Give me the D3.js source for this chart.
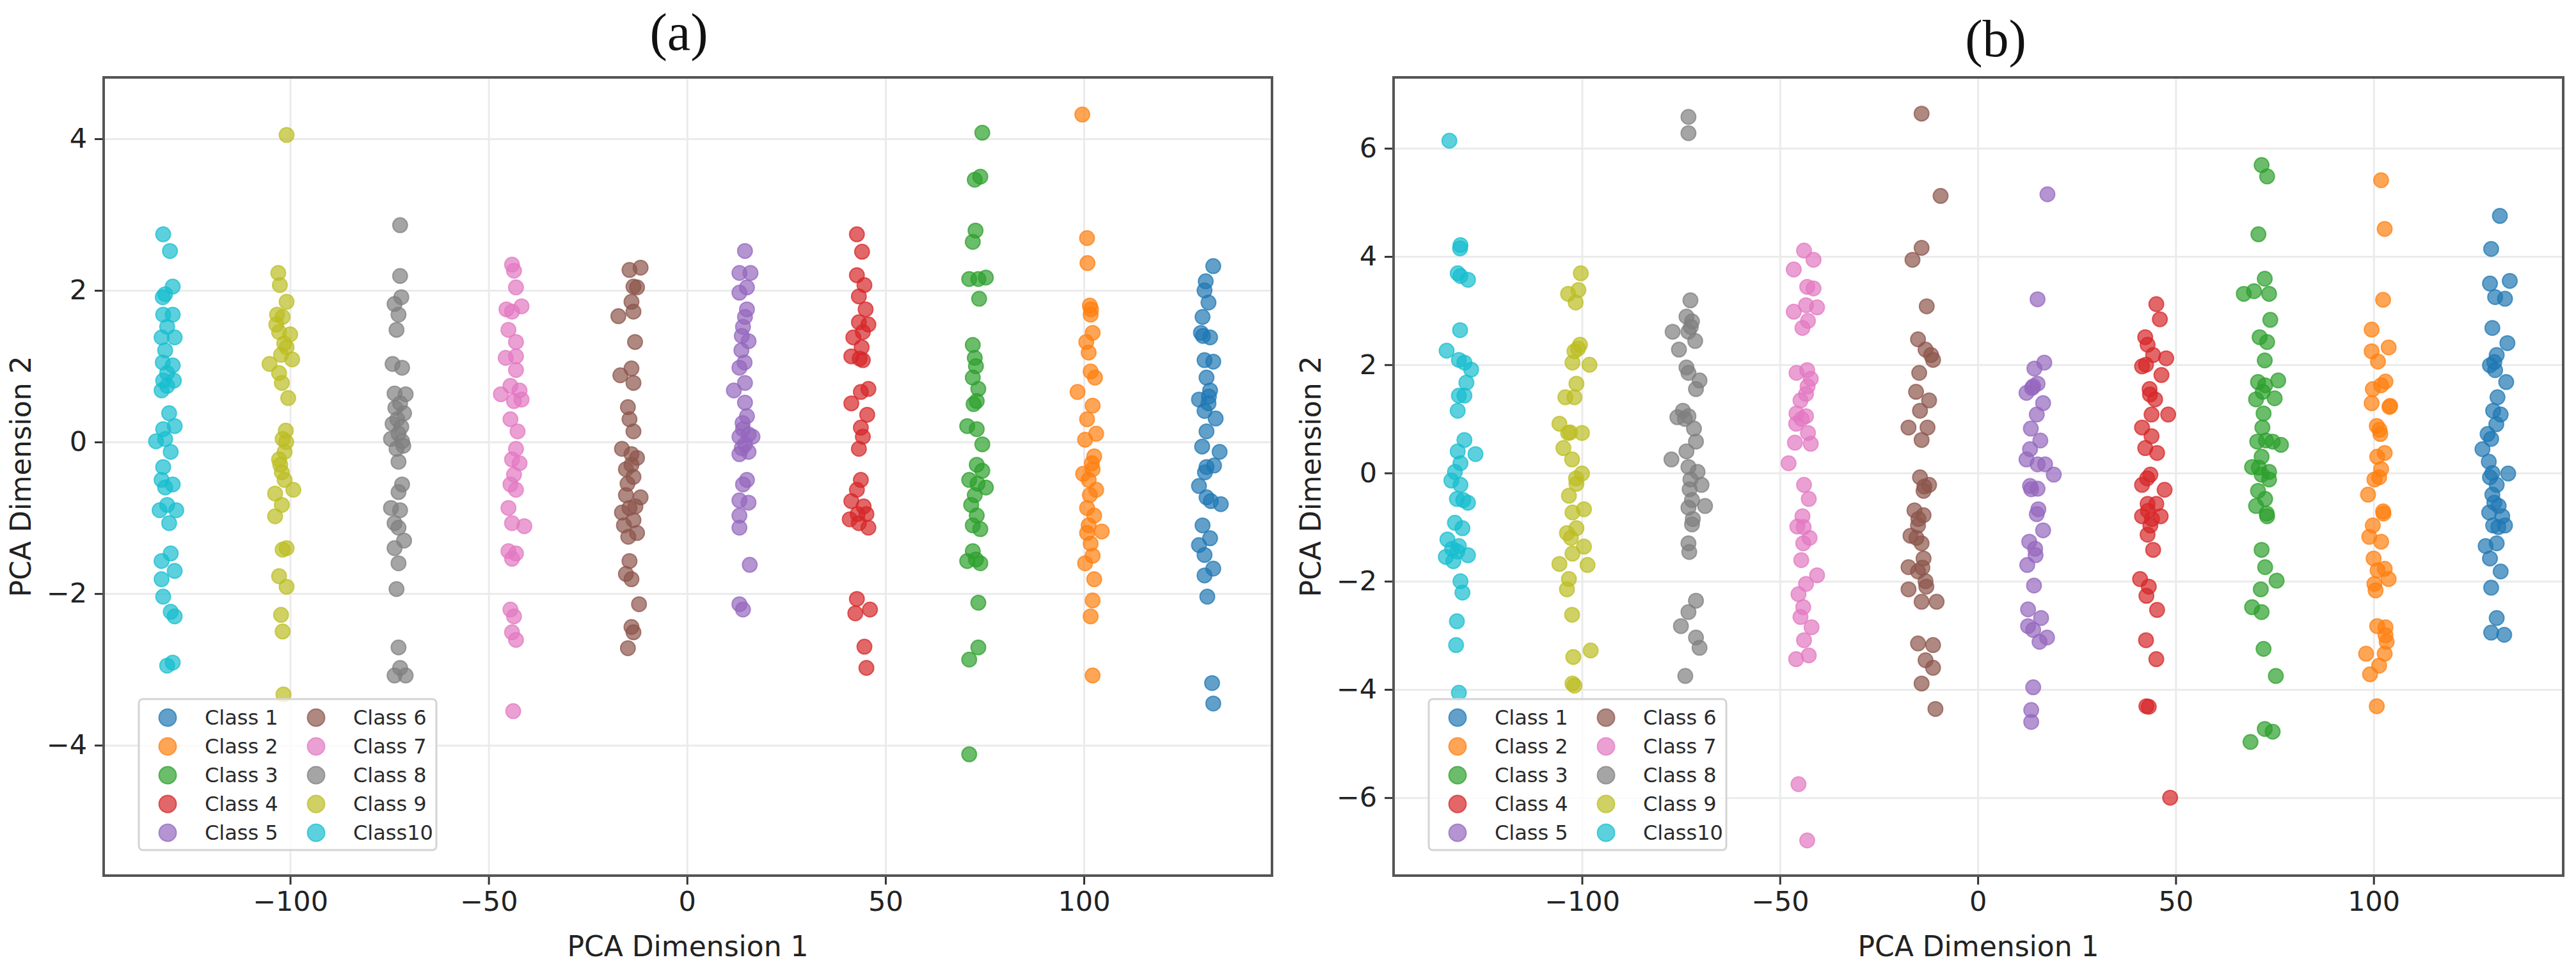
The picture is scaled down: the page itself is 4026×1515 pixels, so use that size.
<!DOCTYPE html>
<html>
<head>
<meta charset="utf-8">
<script src="https://cdn.jsdelivr.net/npm/d3@7"></script>
<style>
  body { margin: 0; background: #fff; }
  svg { display: block; }
  .tick text { font-family: "DejaVu Sans", sans-serif; fill: #222; }
  .axis-label { font-family: "DejaVu Sans", sans-serif; fill: #222; }
  .panel-title { font-family: "Liberation Serif", "Times New Roman", serif; fill: #111; }
  .legend-text { font-family: "DejaVu Sans", sans-serif; fill: #2a2a2a; }
</style>
</head>
<body>
<div id="wrapper"></div>
<script>

// 1. Data

const classLabels = ["Class 1", "Class 2", "Class 3", "Class 4", "Class 5",
  "Class 6", "Class 7", "Class 8", "Class 9", "Class10"]
const palette = ["#1f77b4", "#ff7f0e", "#2ca02c", "#d62728", "#9467bd",
  "#8c564b", "#e377c2", "#7f7f7f", "#bcbd22", "#17becf"]

const xTicks = [-100, -50, 0, 50, 100]
const yTicksA = [-4, -2, 0, 2, 4]
const yTicksB = [-6, -4, -2, 0, 2, 4, 6]

// panel (a)
const a1 = [[132.6,2.32],[130.7,2.12],[130.4,2.00],[131.4,1.84],[129.9,1.65],[129.5,1.44],[131.8,1.38],[130.4,1.08],[132.6,1.06],[130.9,0.85],[131.8,0.68],[129.0,0.56],[131.4,0.51],[130.4,0.41],[133.2,0.31],[130.9,0.14],[129.8,-0.06],[134.2,-0.13],[130.9,-0.33],[132.8,-0.31],[129.0,-0.58],[130.9,-0.73],[134.5,-0.82],[129.9,-1.10],[131.8,-1.27],[129.0,-1.36],[130.4,-1.49],[132.6,-1.67],[130.4,-1.76],[131.1,-2.04],[132.3,-3.18],[132.6,-3.45],[131.5,0.60],[130.5,-0.40],[132.0,-0.78],[130.0,1.40]]
const a2 = [[99.6,4.32],[100.8,2.69],[100.9,2.36],[101.5,1.80],[101.7,1.68],[102.2,1.44],[100.6,1.32],[101.2,1.18],[101.7,0.93],[102.8,0.85],[98.4,0.66],[102.2,0.48],[100.8,0.30],[103.1,0.11],[100.3,0.03],[102.6,-0.19],[102.2,-0.36],[99.8,-0.42],[101.2,-0.50],[103.1,-0.63],[100.8,-0.87],[102.6,-0.97],[101.2,-1.10],[104.5,-1.18],[101.7,-1.34],[102.2,-1.50],[100.3,-1.60],[102.6,-1.81],[102.2,-2.09],[101.7,-2.30],[102.2,-3.08],[101.8,1.75],[102.0,-0.28],[101.5,-0.70],[100.8,-1.20]]
const a3 = [[74.4,4.08],[72.5,3.46],[73.9,3.50],[72.7,2.79],[72.0,2.64],[71.1,2.15],[73.4,2.15],[75.3,2.17],[73.6,1.89],[72.0,1.28],[72.5,1.11],[72.0,0.85],[73.4,0.70],[73.0,0.54],[70.6,0.21],[73.0,0.17],[74.4,-0.03],[73.0,-0.30],[74.4,-0.38],[71.1,-0.50],[75.3,-0.60],[72.5,-0.70],[71.6,-0.83],[73.0,-0.97],[72.0,-1.10],[73.9,-1.15],[72.0,-1.44],[70.6,-1.57],[73.9,-1.60],[73.4,-2.12],[73.4,-2.71],[71.1,-2.87],[71.1,-4.12],[72.8,1.00],[73.2,-0.55],[72.2,0.50],[72.8,-1.55]]
const a4 = [[42.8,2.74],[44.1,2.51],[42.8,2.20],[44.7,2.07],[43.3,1.92],[45.0,1.75],[43.3,1.58],[45.7,1.55],[41.9,1.38],[44.3,1.45],[41.4,1.13],[44.3,1.08],[45.7,0.70],[43.8,0.66],[41.4,0.51],[45.4,0.36],[43.8,0.19],[44.3,0.07],[43.3,-0.09],[43.8,-0.50],[42.8,-0.63],[41.4,-0.78],[45.2,-0.95],[41.0,-1.02],[43.3,-1.07],[45.7,-1.13],[42.8,-2.07],[42.4,-2.26],[46.1,-2.21],[44.7,-2.70],[45.2,-2.98],[43.5,1.10],[44.5,-0.85],[43.0,-0.95],[44.0,1.25]]
const a5 = [[14.6,2.52],[13.2,2.23],[16.0,2.23],[13.2,1.97],[15.1,2.04],[15.1,1.75],[14.6,1.65],[14.1,1.52],[15.5,1.33],[13.7,1.21],[13.2,0.98],[14.6,0.78],[11.8,0.68],[14.6,0.52],[15.1,0.34],[14.1,0.17],[13.2,0.07],[16.5,0.07],[14.6,-0.03],[13.2,-0.16],[15.5,-0.13],[15.1,-0.50],[14.1,-0.56],[13.2,-0.77],[15.5,-0.80],[13.2,-0.97],[13.2,-1.13],[15.8,-1.62],[13.2,-2.14],[14.1,-2.21],[14.0,0.25],[15.5,0.10],[13.8,-0.08],[14.5,1.05],[13.8,1.40]]
const a6 = [[-14.5,2.27],[-11.7,2.30],[-13.5,2.05],[-12.6,2.04],[-14.0,1.85],[-13.5,1.72],[-17.3,1.66],[-13.1,1.32],[-16.8,0.88],[-14.0,0.97],[-13.5,0.78],[-14.9,0.46],[-14.5,0.30],[-13.5,0.14],[-16.4,-0.09],[-14.0,-0.16],[-12.6,-0.21],[-15.4,-0.36],[-13.5,-0.46],[-11.7,-0.73],[-15.4,-0.70],[-14.5,-0.87],[-16.4,-0.93],[-13.5,-1.03],[-15.9,-1.10],[-12.6,-1.20],[-14.5,-1.57],[-15.4,-1.74],[-14.0,-1.81],[-12.1,-2.14],[-14.0,-2.44],[-13.5,-2.51],[-14.9,-2.72],[-14.0,-0.30],[-15.0,-0.55],[-13.0,-0.85],[-14.8,-1.25]]
const a7 = [[-44.1,2.34],[-43.6,2.26],[-43.1,2.04],[-45.5,1.75],[-41.7,1.79],[-44.1,1.72],[-45.0,1.48],[-43.1,1.32],[-45.7,1.11],[-43.1,1.13],[-43.1,0.95],[-44.5,0.74],[-46.9,0.63],[-42.2,0.68],[-43.6,0.54],[-41.7,0.56],[-44.5,0.30],[-42.7,0.14],[-43.1,-0.09],[-44.1,-0.23],[-42.2,-0.28],[-43.6,-0.43],[-44.5,-0.56],[-43.1,-0.63],[-45.0,-0.87],[-44.1,-1.07],[-41.0,-1.11],[-45.0,-1.44],[-43.1,-1.47],[-44.1,-1.54],[-44.5,-2.21],[-43.6,-2.30],[-44.1,-2.51],[-43.1,-2.61],[-43.8,-3.55]]
const a8 = [[-72.3,2.86],[-72.3,2.19],[-72.0,1.91],[-73.7,1.82],[-72.7,1.68],[-73.2,1.48],[-74.2,1.03],[-71.8,0.98],[-73.7,0.64],[-70.9,0.63],[-72.3,0.51],[-71.3,0.38],[-74.2,0.24],[-72.7,0.11],[-74.6,0.04],[-71.8,0.01],[-73.2,-0.09],[-72.7,-0.26],[-71.8,-0.56],[-72.7,-0.66],[-74.6,-0.87],[-72.3,-0.90],[-73.7,-1.07],[-72.7,-1.13],[-71.3,-1.30],[-73.7,-1.40],[-72.7,-1.60],[-73.2,-1.94],[-72.7,-2.71],[-72.3,-2.98],[-73.7,-3.08],[-70.9,-3.08],[-73.0,0.30],[-72.0,0.20],[-73.5,0.45],[-71.5,-0.05]]
const a9 = [[-100.9,4.05],[-103.0,2.23],[-102.6,2.07],[-100.9,1.85],[-103.3,1.68],[-101.9,1.65],[-100.0,1.42],[-102.8,1.45],[-100.9,1.25],[-102.3,1.15],[-105.2,1.03],[-99.5,1.09],[-102.8,0.91],[-102.1,0.78],[-100.5,0.58],[-101.1,0.15],[-101.9,0.04],[-101.4,-0.13],[-102.8,-0.23],[-102.1,-0.40],[-101.4,-0.50],[-103.8,-0.68],[-99.2,-0.63],[-102.1,-0.83],[-103.8,-0.98],[-101.9,-1.42],[-100.9,-1.40],[-102.8,-1.77],[-100.9,-1.91],[-102.3,-2.28],[-101.9,-2.50],[-101.7,-3.33],[-101.5,1.30],[-103.5,1.55],[-101.0,0.00],[-102.5,-0.30]]
const a10 = [[-132.0,2.74],[-130.3,2.52],[-129.6,2.05],[-131.5,1.95],[-132.1,1.91],[-132.0,1.68],[-129.6,1.68],[-131.0,1.52],[-132.4,1.38],[-129.1,1.38],[-131.5,1.21],[-132.1,1.05],[-129.6,1.01],[-131.0,0.91],[-132.0,0.81],[-129.3,0.81],[-131.0,0.74],[-132.4,0.68],[-130.5,0.38],[-132.0,0.17],[-129.1,0.21],[-133.8,0.01],[-131.5,0.04],[-130.1,-0.13],[-132.0,-0.33],[-132.4,-0.50],[-129.6,-0.56],[-131.5,-0.60],[-132.9,-0.90],[-131.0,-0.83],[-128.7,-0.90],[-130.5,-1.07],[-132.4,-1.57],[-130.1,-1.47],[-129.1,-1.70],[-132.4,-1.81],[-132.0,-2.04],[-130.1,-2.24],[-129.1,-2.30],[-131.0,-2.95],[-129.6,-2.91]]

// panel (b)
const b1 = [[131.9,4.75],[129.7,4.14],[129.4,3.50],[134.4,3.55],[130.7,3.25],[133.2,3.22],[130.0,2.68],[133.8,2.40],[131.1,2.18],[129.4,1.99],[130.7,1.90],[133.5,1.68],[131.3,1.40],[130.2,1.15],[132.1,1.08],[128.8,0.72],[129.7,0.63],[127.5,0.44],[129.1,0.21],[134.0,-0.01],[129.4,-0.08],[131.1,-0.22],[130.0,-0.40],[131.6,-0.61],[129.2,-0.73],[132.5,-0.80],[130.2,-0.97],[133.2,-0.97],[128.3,-1.35],[131.1,-1.30],[129.4,-1.58],[132.1,-1.82],[129.7,-2.12],[131.1,-2.68],[129.7,-2.95],[133.0,-2.99],[130.5,2.05],[131.0,0.90],[130.0,0.00],[131.5,-1.00],[130.5,-0.55]]
const b2 = [[101.9,5.41],[102.8,4.51],[102.4,3.20],[99.5,2.65],[103.8,2.32],[99.5,2.25],[101.1,2.06],[103.0,1.69],[101.9,1.62],[99.8,1.55],[99.5,1.29],[104.2,1.24],[100.8,0.87],[101.7,0.72],[102.8,0.37],[100.9,0.30],[101.9,0.07],[101.4,-0.08],[100.2,-0.12],[98.6,-0.40],[102.4,-0.71],[99.8,-0.97],[98.9,-1.18],[101.9,-1.27],[100.0,-1.58],[102.8,-1.77],[103.8,-1.96],[100.2,-2.05],[100.5,-2.17],[100.9,-2.83],[103.0,-2.85],[103.3,-3.12],[98.1,-3.34],[102.8,-3.34],[101.4,-3.56],[99.1,-3.72],[100.8,-4.31],[104.0,1.22],[101.5,0.80],[102.5,-0.75],[101.0,-1.80],[103.0,-3.00]]
const b3 = [[71.7,5.69],[73.1,5.48],[70.9,4.41],[72.5,3.59],[67.2,3.31],[69.8,3.36],[73.6,3.31],[73.9,2.83],[71.2,2.51],[73.1,2.42],[72.5,2.08],[70.8,1.68],[75.9,1.71],[72.6,1.62],[70.3,1.36],[75.0,1.38],[72.2,1.10],[71.9,0.84],[70.6,0.58],[74.5,0.58],[76.6,0.52],[71.7,0.30],[69.3,0.11],[73.6,0.02],[71.7,-0.03],[73.6,-0.12],[70.8,-0.33],[72.6,-0.48],[70.3,-0.61],[73.1,-0.80],[71.7,-1.42],[72.6,-1.74],[75.5,-1.99],[71.5,-2.15],[69.3,-2.48],[71.7,-2.57],[72.2,-3.25],[75.3,-3.75],[72.5,-4.73],[74.5,-4.78],[68.9,-4.97],[72.0,1.50],[72.8,0.60],[71.0,0.10],[73.0,-0.75]]
const b4 = [[45.1,3.12],[46.0,2.84],[42.3,2.51],[42.9,2.37],[44.3,2.18],[47.6,2.12],[41.5,1.97],[46.4,1.81],[43.4,1.55],[44.8,1.36],[43.9,1.08],[48.1,1.08],[41.5,0.84],[43.9,0.68],[42.3,0.46],[45.3,0.37],[43.6,-0.03],[41.5,-0.22],[47.2,-0.31],[42.9,-0.57],[45.1,-0.57],[41.5,-0.80],[46.2,-0.80],[43.6,-0.97],[42.9,-1.14],[44.3,-1.42],[41.0,-1.96],[43.2,-2.10],[42.6,-2.27],[45.3,-2.53],[42.5,-3.09],[45.1,-3.44],[42.6,-4.31],[43.2,-4.32],[48.6,-6.00],[42.5,2.00],[43.5,1.45],[42.8,-0.10],[44.0,-0.85],[43.0,-0.70]]
const b5 = [[17.6,5.15],[15.1,3.21],[16.8,2.04],[14.3,1.93],[15.1,1.65],[12.3,1.48],[13.7,1.57],[16.5,1.29],[14.9,1.08],[13.4,0.82],[15.8,0.60],[13.2,0.44],[12.3,0.25],[15.1,0.16],[17.0,0.16],[19.2,-0.03],[13.2,-0.24],[15.1,-0.29],[15.3,-0.67],[14.9,-0.76],[16.5,-1.06],[13.0,-1.27],[14.6,-1.52],[12.5,-1.70],[14.2,-2.08],[12.7,-2.52],[16.0,-2.68],[12.7,-2.83],[15.6,-3.12],[17.5,-3.04],[14.0,-3.96],[13.5,-4.38],[13.5,-4.60],[14.0,1.60],[13.5,-0.30],[14.5,-1.40],[14.0,-2.90]]
const b6 = [[-14.2,6.64],[-9.4,5.12],[-14.2,4.16],[-16.5,3.94],[-12.9,3.08],[-15.1,2.47],[-13.2,2.28],[-11.3,2.09],[-11.8,2.18],[-14.8,1.85],[-15.6,1.50],[-12.3,1.34],[-14.6,1.15],[-17.5,0.84],[-12.7,0.84],[-14.2,0.61],[-14.6,-0.08],[-12.3,-0.22],[-13.7,-0.33],[-16.0,-0.69],[-13.7,-0.78],[-15.1,-0.97],[-17.0,-1.16],[-14.2,-1.30],[-13.7,-1.58],[-17.5,-1.74],[-15.1,-1.82],[-13.2,-2.00],[-17.5,-2.15],[-14.2,-2.38],[-10.4,-2.38],[-15.1,-3.15],[-11.3,-3.18],[-13.2,-3.46],[-11.3,-3.60],[-14.2,-3.89],[-10.7,-4.36],[-13.5,-0.25],[-15.0,-0.85],[-14.0,-1.75],[-13.0,-2.10],[-15.5,-1.20]]
const b7 = [[-43.9,4.11],[-41.5,3.94],[-46.5,3.76],[-43.1,3.44],[-41.5,3.41],[-43.4,3.10],[-40.6,3.06],[-46.5,2.98],[-42.9,2.81],[-44.3,2.68],[-45.8,1.85],[-43.1,1.90],[-42.2,1.74],[-43.4,1.46],[-44.8,1.34],[-45.8,1.10],[-43.4,1.05],[-45.9,0.91],[-42.9,0.74],[-46.2,0.56],[-42.2,0.54],[-47.8,0.18],[-43.9,-0.22],[-42.7,-0.48],[-44.3,-0.80],[-45.6,-0.99],[-42.5,-1.20],[-44.1,-1.30],[-44.6,-1.61],[-40.6,-1.89],[-43.4,-2.05],[-45.3,-2.24],[-44.1,-2.48],[-44.8,-2.66],[-42.0,-2.85],[-43.9,-3.09],[-45.9,-3.44],[-42.7,-3.37],[-45.3,-5.75],[-43.1,-6.79],[-44.5,1.00],[-43.0,1.60],[-44.0,-1.00]]
const b8 = [[-73.1,6.58],[-73.1,6.28],[-72.6,3.19],[-73.6,2.89],[-72.2,2.80],[-77.1,2.61],[-73.1,2.61],[-71.4,2.44],[-75.5,2.28],[-73.6,1.95],[-73.1,1.85],[-70.3,1.71],[-71.2,1.55],[-74.5,1.15],[-75.9,1.03],[-73.1,1.05],[-71.7,0.82],[-71.2,0.58],[-73.6,0.40],[-77.4,0.25],[-73.1,0.11],[-70.8,0.02],[-72.6,-0.12],[-69.8,-0.22],[-72.2,-0.50],[-68.9,-0.61],[-73.1,-0.64],[-72.2,-0.95],[-73.1,-1.30],[-72.9,-1.46],[-71.2,-2.36],[-73.1,-2.57],[-75.0,-2.83],[-71.2,-3.04],[-70.3,-3.23],[-73.9,-3.75],[-72.5,2.70],[-74.0,1.00],[-72.8,-0.30],[-72.0,-0.85]]
const b9 = [[-100.3,3.69],[-103.5,3.31],[-100.9,3.38],[-101.6,3.15],[-100.5,2.37],[-101.9,2.25],[-98.1,2.00],[-102.4,2.04],[-101.4,1.65],[-104.2,1.40],[-101.9,1.40],[-105.7,0.91],[-103.5,0.74],[-100.0,0.74],[-104.7,0.46],[-102.5,0.25],[-100.0,-0.01],[-101.4,-0.20],[-103.3,-0.42],[-99.5,-0.67],[-102.4,-0.73],[-103.8,-1.11],[-101.4,-1.02],[-99.5,-1.36],[-102.4,-1.49],[-105.7,-1.68],[-98.6,-1.70],[-103.3,-1.96],[-103.8,-2.15],[-102.5,-2.62],[-102.2,-3.40],[-97.8,-3.28],[-102.4,-3.89],[-101.9,-3.93],[-101.0,2.30],[-102.8,-1.20],[-101.5,-0.10],[-103.0,0.75]]
const b10 = [[-133.5,6.14],[-130.7,4.21],[-130.8,4.15],[-131.4,3.69],[-130.7,3.64],[-128.8,3.57],[-130.8,2.64],[-134.2,2.26],[-131.1,2.09],[-129.7,2.04],[-128.0,1.91],[-129.2,1.67],[-131.1,1.43],[-129.7,1.43],[-131.4,1.15],[-129.7,0.61],[-131.4,0.40],[-126.9,0.35],[-130.7,0.18],[-132.1,0.02],[-133.0,-0.14],[-130.7,-0.22],[-131.6,-0.48],[-128.8,-0.55],[-132.1,-0.92],[-130.2,-1.02],[-134.0,-1.23],[-131.1,-1.35],[-128.8,-1.52],[-134.4,-1.55],[-132.5,-1.63],[-130.7,-2.00],[-130.2,-2.21],[-131.6,-2.74],[-131.8,-3.18],[-131.1,-4.06],[-131.5,-1.45],[-130.0,-0.50],[-132.8,-1.40]]

const xAccessor = d => d[0]
const yAccessor = d => d[1]

// 2. Dimensions

const width = 4026
const height = 1515

const panels = [
  {
    id: "a", title: "(a)", titleX: 1061, titleY: 78,
    left: 162, right: 1988, top: 121, bottom: 1369,
    xDomain: [-147.0, 147.4], yDomain: [-5.72, 4.81],
    yTicks: yTicksA,
    series: [a1, a2, a3, a4, a5, a6, a7, a8, a9, a10],
  },
  {
    id: "b", title: "(b)", titleX: 3119, titleY: 88,
    left: 2178, right: 4006, top: 121, bottom: 1369,
    xDomain: [-147.6, 147.9], yDomain: [-7.44, 7.31],
    yTicks: yTicksB,
    series: [b1, b2, b3, b4, b5, b6, b7, b8, b9, b10],
  },
]

// 3. Draw canvas

const wrapper = d3.select("#wrapper")
  .append("svg")
    .attr("width", width)
    .attr("height", height)

wrapper.append("rect")
    .attr("width", width)
    .attr("height", height)
    .attr("fill", "#fff")

const fmt = d => d3.format("d")(d).replace("-", "\u2212")

panels.forEach(p => {
  const w = p.right - p.left
  const h = p.bottom - p.top

  const bounds = wrapper.append("g")
      .attr("transform", `translate(${p.left}, ${p.top})`)

  // 4. Scales

  const xScale = d3.scaleLinear()
    .domain(p.xDomain)
    .range([0, w])

  const yScale = d3.scaleLinear()
    .domain(p.yDomain)
    .range([h, 0])

  bounds.append("clipPath")
      .attr("id", `clip-${p.id}`)
    .append("rect")
      .attr("width", w)
      .attr("height", h)

  // grid
  const xGrid = bounds.append("g")
      .attr("transform", `translate(0, ${h})`)
      .call(d3.axisBottom(xScale).tickValues(xTicks).tickSize(-h).tickFormat(""))
  const yGrid = bounds.append("g")
      .call(d3.axisLeft(yScale).tickValues(p.yTicks).tickSize(-w).tickFormat(""))
  ;[xGrid, yGrid].forEach(g => {
    g.select(".domain").remove()
    g.selectAll("line").attr("stroke", "#ebebeb").attr("stroke-width", 3)
  })

  // 5. Draw data

  const dotsLayer = bounds.append("g")
      .attr("clip-path", `url(#clip-${p.id})`)

  p.series.forEach((pts, i) => {
    dotsLayer.append("g")
      .selectAll("circle")
      .data(pts)
      .enter().append("circle")
        .attr("cx", d => xScale(xAccessor(d)))
        .attr("cy", d => yScale(yAccessor(d)))
        .attr("r", 11.5)
        .attr("fill", palette[i])
        .attr("fill-opacity", 0.7)
        .attr("stroke", palette[i])
        .attr("stroke-opacity", 0.7)
        .attr("stroke-width", 2)
  })

  // 6. Peripherals

  const xAxis = bounds.append("g")
      .attr("transform", `translate(0, ${h})`)
      .call(d3.axisBottom(xScale).tickValues(xTicks).tickSize(14).tickPadding(10).tickFormat(fmt))
  const yAxis = bounds.append("g")
      .call(d3.axisLeft(yScale).tickValues(p.yTicks).tickSize(14).tickPadding(12).tickFormat(fmt))

  ;[xAxis, yAxis].forEach(g => {
    g.select(".domain").remove()
    g.selectAll(".tick line").attr("stroke", "#333").attr("stroke-width", 3)
    g.selectAll(".tick text").style("font-size", "43px")
  })

  bounds.append("rect")
      .attr("width", w)
      .attr("height", h)
      .attr("fill", "none")
      .attr("stroke", "#555")
      .attr("stroke-width", 4)

  bounds.append("text")
      .attr("class", "axis-label")
      .attr("x", w / 2)
      .attr("y", 1495 - p.top)
      .attr("text-anchor", "middle")
      .style("font-size", "44px")
      .text("PCA Dimension 1")

  bounds.append("text")
      .attr("class", "axis-label")
      .attr("transform", `translate(-130, ${h / 2}) rotate(-90)`)
      .attr("text-anchor", "middle")
      .attr("dy", "0.36em")
      .style("font-size", "44px")
      .text("PCA Dimension 2")

  wrapper.append("text")
      .attr("class", "panel-title")
      .attr("x", p.titleX)
      .attr("y", p.titleY)
      .attr("text-anchor", "middle")
      .style("font-size", "82px")
      .text(p.title)

  // legend
  const legend = bounds.append("g")
      .attr("transform", `translate(55, ${1093 - p.top})`)

  legend.append("rect")
      .attr("width", 465)
      .attr("height", 236)
      .attr("rx", 6)
      .attr("fill", "#fff")
      .attr("fill-opacity", 0.8)
      .attr("stroke", "#d4d4d4")
      .attr("stroke-width", 3)

  const items = legend.selectAll(".legend-item")
    .data(classLabels)
    .enter().append("g")
      .attr("class", "legend-item")
      .attr("transform", (d, i) => `translate(${i < 5 ? 45 : 277}, ${29 + (i % 5) * 45})`)

  items.append("circle")
      .attr("r", 13.5)
      .attr("fill", (d, i) => palette[i])
      .attr("fill-opacity", 0.7)
      .attr("stroke", (d, i) => palette[i])
      .attr("stroke-opacity", 0.7)
      .attr("stroke-width", 2)

  items.append("text")
      .attr("class", "legend-text")
      .attr("x", 58)
      .attr("y", 11)
      .style("font-size", "32px")
      .text(d => d)
})

</script>
</body>
</html>
